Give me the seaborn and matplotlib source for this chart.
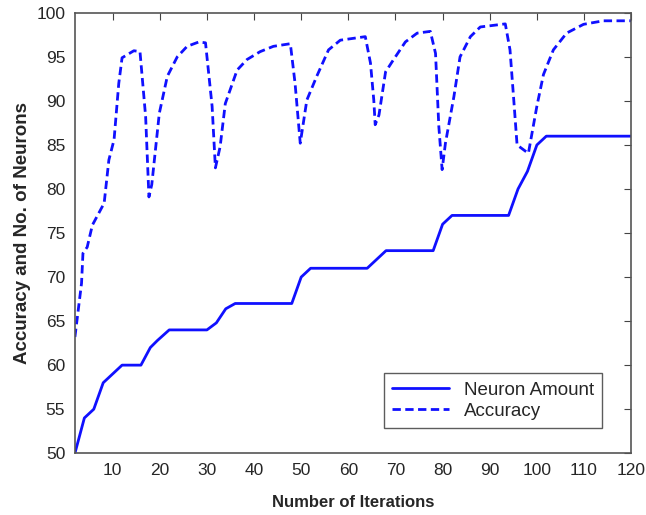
import matplotlib
matplotlib.use("Agg")
import matplotlib.pyplot as plt
import seaborn as sns
import pandas as pd

# values
neuron_iter = [2, 4, 6, 8, 12, 16, 18, 19.5, 22, 30, 32, 34, 36, 48, 50, 52, 64, 68, 78, 80, 82, 94, 96, 98, 100, 102, 120]
neuron_val = [50, 54, 55, 58, 60, 60, 62, 62.8, 64, 64, 64.8, 66.4, 67, 67, 70, 71, 71, 73, 73, 76, 77, 77, 80, 82, 85, 86, 86]

acc_iter = [2, 3.4, 3.7, 4.6, 5.7, 8.2, 9.2, 10.3, 11.3, 12, 14.5, 15.8, 17, 17.7, 18.3,
            19.9, 21.6, 23.7, 25.8, 28.3, 29.7, 30.4, 31.1, 31.8, 32.8, 33.9, 36.4, 38.5,
            41.3, 44.1, 47.7, 48.7, 49.8, 51.2, 53.3, 55.8, 58.3, 63.6, 64.7, 65.4, 65.7,
            66.5, 67.9, 69.6, 72.1, 74.6, 77.4, 78.5, 79.2, 79.9, 80.6, 82.4, 83.7, 85.9,
            88, 93.3, 94.3, 95.1, 95.8, 98.2, 100, 101.4, 103.5, 106.3, 109.9, 114.1, 120]
acc_val = [63.2, 69.3, 72.7, 73.4, 75.9, 78.4, 83.3, 85.6, 92, 94.9, 95.7, 95.6, 88.2, 79.1, 80.5,
           88.6, 92.8, 95, 96.2, 96.7, 96.6, 93, 89.4, 82.4, 84.8, 89.7, 93.5, 94.7,
           95.6, 96.2, 96.5, 92, 85.2, 90.1, 92.8, 95.8, 96.9, 97.3, 94.3, 90.1, 87.3,
           88.4, 93.3, 94.7, 96.7, 97.7, 97.9, 95.4, 87.1, 82.2, 85.2, 90.5, 95, 97.3,
           98.4, 98.75, 95.8, 90.1, 85, 84.05, 89.4, 93, 95.8, 97.7, 98.7, 99.1, 99.1]

x_ticks = list(range(10, 121, 10))
y_ticks = list(range(50, 101, 5))

sns.set_style("white")
plt.rcParams["font.family"] = ["Liberation Sans", "DejaVu Sans"]

neurons = pd.DataFrame({"iter": neuron_iter, "val": neuron_val})
acc = pd.DataFrame({"iter": acc_iter, "val": acc_val})

fig = plt.figure(figsize=(6.46, 5.15), dpi=100)
ax = fig.add_axes([0.116, 0.12, 0.861, 0.855])

line_col = "#1010ff"
sns.lineplot(data=neurons, x="iter", y="val", ax=ax, color=line_col, lw=2,
             estimator=None, label="Neuron Amount")
sns.lineplot(data=acc, x="iter", y="val", ax=ax, color=line_col, lw=2,
             estimator=None, label="Accuracy", linestyle=(0, (3, 1.6)))

ax.set_xlim(2, 120)
ax.set_ylim(50, 100)
ax.set_xticks(x_ticks)
ax.set_yticks(y_ticks)
ax.tick_params(direction="in", length=5, top=True, right=True, labelsize=12.5,
               color="#444444", pad=7)
for s in ax.spines.values():
    s.set_color("#555555")
    s.set_linewidth(1.2)

ax.set_xlabel("Number of Iterations", fontsize=12, fontweight="bold", labelpad=12)
ax.set_ylabel("Accuracy and No. of Neurons", fontsize=13.5, fontweight="bold", labelpad=4)

leg = ax.legend(loc="lower right", bbox_to_anchor=(0.948, 0.057), borderaxespad=0,
                fontsize=13.5, frameon=True, fancybox=False, edgecolor="#333333",
                handlelength=3, borderpad=0.45, labelspacing=0.2)
leg.get_frame().set_linewidth(1.0)

fig.savefig("out.png", dpi=100)
